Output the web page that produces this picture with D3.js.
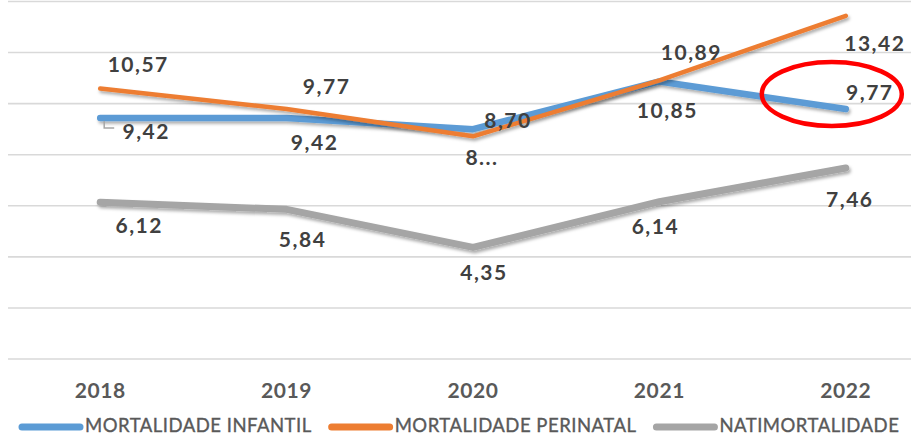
<!DOCTYPE html>
<html>
<head>
<meta charset="utf-8">
<script src="https://cdn.jsdelivr.net/npm/d3@7"></script>
<style>
body { margin:0; background:#fff; }
svg { display:block; }
</style>
</head>
<body>
<svg id="chart"></svg>
<script>
// data
var years = ["2018","2019","2020","2021","2022"];
var infantil = [9.42, 9.42, 8.98, 10.85, 9.77];
var perinatal = [10.57, 9.77, 8.70, 10.89, 13.42];
var natimortalidade = [6.12, 5.84, 4.35, 6.14, 7.46];
var infantilLabels = ["9,42","9,42","8...","10,85","9,77"];
var perinatalLabels = ["10,57","9,77","8,70","10,89","13,42"];
var natiLabels = ["6,12","5,84","4,35","6,14","7,46"];
var seriesNames = ["MORTALIDADE INFANTIL","MORTALIDADE PERINATAL","NATIMORTALIDADE"];
var yTicks = [0,2,4,6,8,10,12,14];

// label placement (dx, dy from point to label centre/baseline)
var infantilOff = [[46,21],[28,32],[9,36],[8,37],[24,-9]];
var perinatalOff = [[38,-17],[40,-15],[35,-8],[32,-20],[29,35]];
var natiOff = [[39,31],[16,38],[11,33],[-4,32],[4,39]];

var screen = {width:911, height:436};
var svg = d3.select("#chart")
    .attr("width", screen.width)
    .attr("height", screen.height);

var defs = svg.append("defs");
var f = defs.append("filter").attr("id","shadow")
    .attr("x","-10%").attr("y","-50%").attr("width","120%").attr("height","200%");
f.append("feDropShadow")
    .attr("dx",1.5).attr("dy",2.5).attr("stdDeviation",1.6)
    .attr("flood-color","#000").attr("flood-opacity",0.32);

var xScale = d3.scalePoint()
    .domain(years)
    .range([7, 939])
    .padding(0.5);

var yScale = d3.scaleLinear()
    .domain([0,14])
    .range([358.5, 1]);

// gridlines
var grid = svg.append("g")
    .attr("transform","translate(8,0)")
    .call(d3.axisLeft(yScale).tickValues(yTicks).tickSize(-931).tickFormat(""));
grid.select(".domain").remove();
grid.selectAll("line").attr("stroke","#d9d9d9").attr("stroke-width",1.6);

// x axis labels
svg.append("g").selectAll("text")
    .data(years)
    .enter()
    .append("text")
    .attr("x", function(d){ return xScale(d); })
    .attr("y", 398)
    .attr("text-anchor","middle")
    .style("font-family","Lato, 'Liberation Sans', sans-serif")
    .style("font-weight","bold")
    .style("font-size","21px")
    .style("letter-spacing","0.6px")
    .attr("fill","#595959")
    .text(function(d){ return d; });

var series = [
    {name:seriesNames[0], values:infantil, labels:infantilLabels, off:infantilOff, color:"#5b9bd5", w:6.5},
    {name:seriesNames[1], values:perinatal, labels:perinatalLabels, off:perinatalOff, color:"#ed7d31", w:4.5},
    {name:seriesNames[2], values:natimortalidade, labels:natiLabels, off:natiOff, color:"#a5a5a5", w:7}
];

var line = d3.line()
    .x(function(d,i){ return xScale(years[i]); })
    .y(function(d){ return yScale(d); });

svg.append("g").selectAll("path")
    .data(series)
    .enter()
    .append("path")
    .attr("d", function(s){ return line(s.values); })
    .attr("fill","none")
    .attr("stroke", function(s){ return s.color; })
    .attr("stroke-width", function(s){ return s.w; })
    .attr("stroke-linecap","round")
    .attr("stroke-linejoin","round")
    .attr("filter","url(#shadow)");

// small leader line under the first infantil label
var lp = [xScale("2018"), yScale(infantil[0])];
svg.append("path")
    .attr("d", "M" + (lp[0]+4) + "," + (lp[1]+3) + "V" + (lp[1]+10) + "H" + (lp[0]+14))
    .attr("fill","none")
    .attr("stroke","#a6a6a6")
    .attr("stroke-width",1.5);

// data labels
series.forEach(function(s){
    svg.append("g").selectAll("text")
        .data(s.values)
        .enter()
        .append("text")
        .attr("x", function(d,i){ return xScale(years[i]) + s.off[i][0]; })
        .attr("y", function(d,i){ return yScale(d) + s.off[i][1]; })
        .attr("text-anchor","middle")
        .style("font-family","Lato, 'Liberation Sans', sans-serif")
        .style("font-weight","bold")
        .style("font-size","21px")
        .style("letter-spacing","1.5px")
        .attr("fill","#404040")
        .text(function(d,i){ return s.labels[i]; });
});

// red highlight ellipse
svg.append("ellipse")
    .attr("cx", xScale("2022") - 14)
    .attr("cy", yScale(infantil[4]) - 15)
    .attr("rx", 70)
    .attr("ry", 32)
    .attr("fill","none")
    .attr("stroke","#ff0000")
    .attr("stroke-width",4.5);

// legend
var legend = svg.append("g");
var lx = 22;
series.forEach(function(s){
    legend.append("line")
        .attr("x1", lx).attr("x2", lx + 58)
        .attr("y1", 427).attr("y2", 427)
        .attr("stroke", s.color)
        .attr("stroke-width", 7)
        .attr("stroke-linecap","round");
    var t = legend.append("text")
        .attr("x", lx + 63)
        .attr("y", 432)
        .style("font-family","Lato, 'Liberation Sans', sans-serif")
        .style("font-size","18.5px")
        .style("letter-spacing","0.5px")
        .attr("fill","#595959")
        .attr("stroke","#595959")
        .attr("stroke-width",0.35)
        .text(s.name);
    lx = lx + 63 + t.node().getComputedTextLength() + 20;
});
</script>
</body>
</html>
